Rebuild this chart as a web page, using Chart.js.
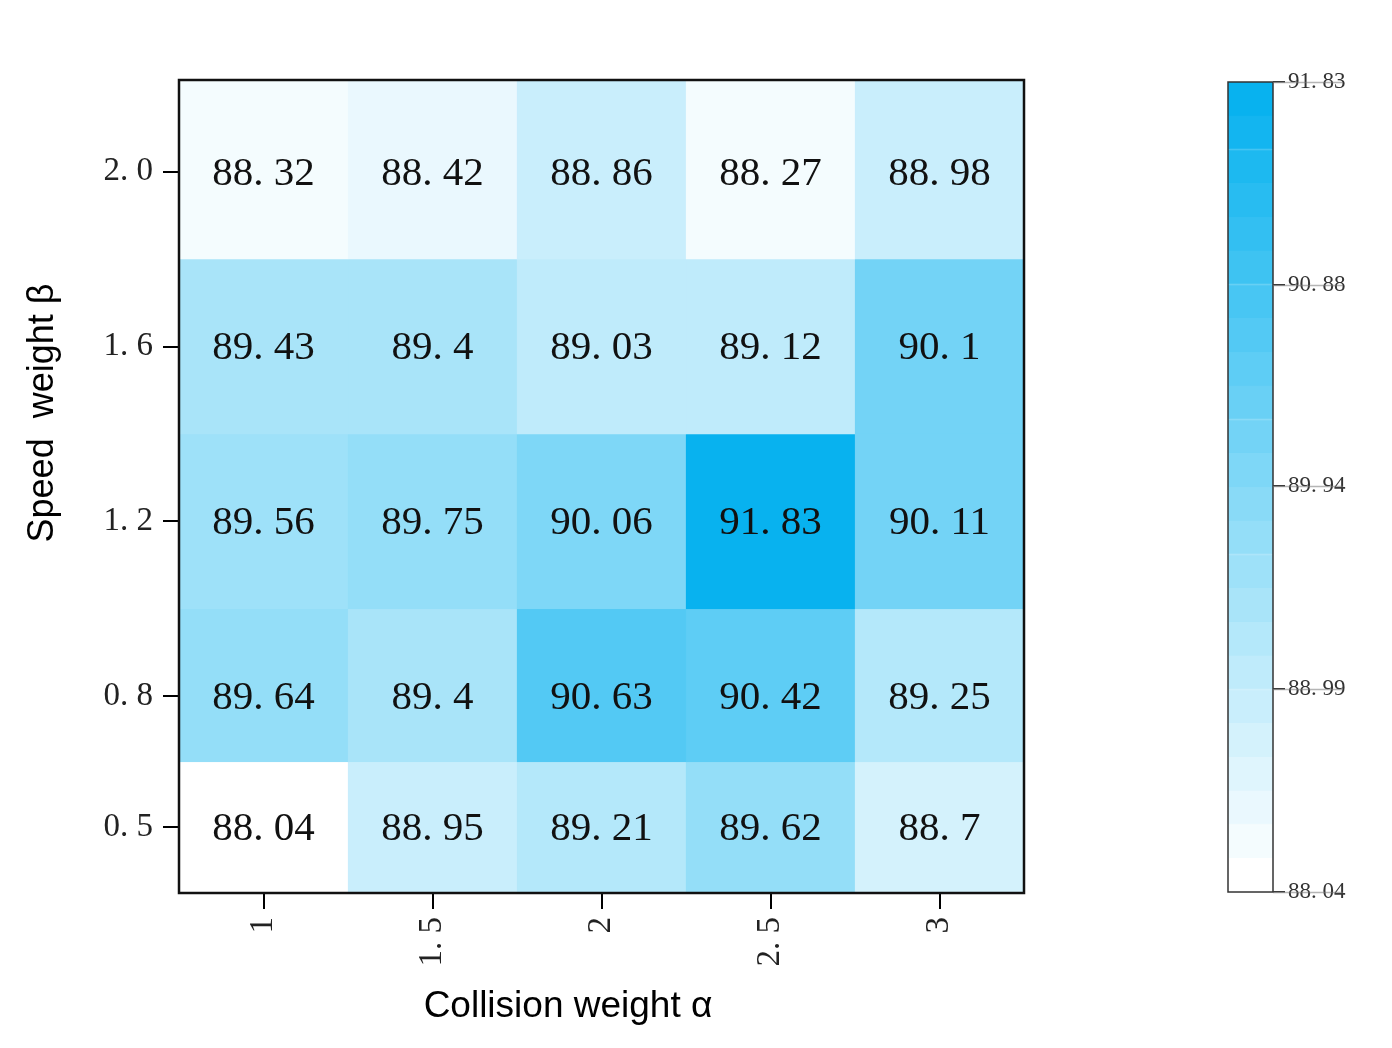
<!DOCTYPE html>
<html>
<head>
<meta charset="utf-8">
<script src="https://cdn.jsdelivr.net/npm/chart.js@4.4.1/dist/chart.umd.min.js"></script>
<style>
  body { margin: 0; background: #fff; }
  #wrap { position: relative; width: 1392px; height: 1048px; }
  canvas { position: absolute; top: 0; }
</style>
</head>
<body>
<div id="wrap">
  <canvas id="heat" width="1140" height="1048" style="left:0;width:1140px;height:1048px"></canvas>
  <canvas id="bar" width="242" height="1048" style="left:1150px;width:242px;height:1048px"></canvas>
</div>
<script>
// categories
const alphaLabels = ['1', '1.5', '2', '2.5', '3'];
const betaValues = [2.0, 1.6, 1.2, 0.8, 0.5];
// cell edges of each beta row [low, high]
const betaEdges = [[1.8, 2.21], [1.4, 1.8], [1.0, 1.4], [0.65, 1.0], [0.35, 0.65]];

// accuracy values, one array per beta row
const row20 = [88.32, 88.42, 88.86, 88.27, 88.98];
const row16 = [89.43, 89.4, 89.03, 89.12, 90.1];
const row12 = [89.56, 89.75, 90.06, 91.83, 90.11];
const row08 = [89.64, 89.4, 90.63, 90.42, 89.25];
const row05 = [88.04, 88.95, 89.21, 89.62, 88.7];
const rows = [row20, row16, row12, row08, row05];

const barTicks = [88.04, 88.99, 89.94, 90.88, 91.83];
const vMin = 88.04, vMax = 91.83;
const nLevels = 24;

const serif = '"Liberation Serif", "DejaVu Serif", serif';
const sans = '"Liberation Sans", Arial, sans-serif';

function fmt(v) {
    return String(v).replace('.', '. ');
}

function levelColor(k) {
    const t = k / (nLevels - 1);
    const r = Math.round(255 - t * (255 - 8));
    const g = Math.round(255 - t * (255 - 178));
    const b = Math.round(255 - t * (255 - 239));
    return `rgb(${r},${g},${b})`;
}

function valueColor(v) {
    const w = (vMax - vMin) / nLevels;
    const k = Math.min(nLevels - 1, Math.floor((v - vMin) / w + 1e-9));
    return levelColor(k);
}

const frame = (width, color) => ({
    id: 'frame',
    afterDraw(chart) {
        const a = chart.chartArea;
        const ctx = chart.ctx;
        ctx.save();
        ctx.strokeStyle = color;
        ctx.lineWidth = width;
        ctx.strokeRect(a.left, a.top, a.right - a.left, a.bottom - a.top);
        ctx.restore();
    }
});

const cellLabels = {
    id: 'cellLabels',
    afterDatasetsDraw(chart) {
        const ctx = chart.ctx;
        ctx.save();
        ctx.font = `41px ${serif}`;
        ctx.fillStyle = '#111';
        ctx.textAlign = 'center';
        ctx.textBaseline = 'middle';
        chart.data.datasets.forEach((ds, i) => {
            chart.getDatasetMeta(i).data.forEach((el, j) => {
                const v = rows[i][j];
                const yc = chart.scales.y.getPixelForValue(betaValues[i]);
                ctx.fillText(fmt(v), el.x, yc + 2);
            });
        });
        ctx.restore();
    }
};

const axisTitles = {
    id: 'axisTitles',
    afterDraw(chart) {
        const ctx = chart.ctx;
        ctx.save();
        ctx.fillStyle = '#000';
        ctx.textAlign = 'center';
        ctx.textBaseline = 'middle';
        ctx.font = `37px ${sans}`;
        ctx.fillText('Collision weight α', 568, 1007);
        ctx.translate(43, 413);
        ctx.rotate(-Math.PI / 2);
        ctx.font = `36px ${sans}`;
        ctx.fillText('Speed  weight β', 0, 0);
        ctx.restore();
    }
};

// faint tick lines running through the colour bar labels
const barTickLines = {
    id: 'barTickLines',
    afterDraw(chart) {
        const ctx = chart.ctx;
        const s = chart.scales.y;
        ctx.save();
        ctx.strokeStyle = 'rgba(120,120,120,0.55)';
        ctx.lineWidth = 1.5;
        s.ticks.forEach(t => {
            const y = Math.round(s.getPixelForValue(t.value)) + 0.5;
            ctx.beginPath();
            ctx.moveTo(chart.chartArea.right, y);
            ctx.lineTo(chart.chartArea.right + 70, y);
            ctx.stroke();
        });
        ctx.restore();
    }
};

new Chart(document.getElementById('heat'), {
    type: 'bar',
    data: {
        labels: alphaLabels,
        datasets: rows.map((r, i) => ({
            label: String(betaValues[i]),
            data: r.map(() => betaEdges[i]),
            backgroundColor: r.map(valueColor),
            borderColor: r.map(valueColor),
            borderWidth: 1,
            borderSkipped: false,
            grouped: false,
            barPercentage: 1,
            categoryPercentage: 1
        }))
    },
    options: {
        responsive: false,
        animation: false,
        layout: { padding: { top: 80, right: 116, bottom: 0, left: 0 } },
        plugins: { legend: { display: false }, tooltip: { enabled: false } },
        scales: {
            x: {
                afterFit(s) { s.height = 155; },
                grid: { offset: false, drawOnChartArea: false, tickLength: 16, color: '#000', lineWidth: 2 },
                border: { display: false },
                ticks: {
                    font: { family: serif, size: 33 },
                    color: '#222',
                    minRotation: 90,
                    maxRotation: 90,
                    padding: 8,
                    callback(v, i) { return fmt(alphaLabels[i]); }
                }
            },
            y: {
                min: 0.35,
                max: 2.21,
                afterFit(s) { s.width = 179; },
                afterBuildTicks(s) { s.ticks = betaValues.map(v => ({ value: v })); },
                grid: { drawOnChartArea: false, tickLength: 16, color: '#000', lineWidth: 2 },
                border: { display: false },
                ticks: {
                    font: { family: serif, size: 33 },
                    color: '#222',
                    padding: 10,
                    callback(v) { return fmt(v.toFixed(1)); }
                }
            }
        }
    },
    plugins: [cellLabels, frame(2.5, '#111'), axisTitles]
});

// colour bar
const bandW = (vMax - vMin) / nLevels;
const bands = [];
for (let k = 0; k < nLevels; k++) {
    bands.push({
        data: [[vMin + k * bandW, vMin + (k + 1) * bandW]],
        backgroundColor: levelColor(k),
        borderColor: levelColor(k),
        borderWidth: 1,
        borderSkipped: false,
        grouped: false,
        barPercentage: 1,
        categoryPercentage: 1
    });
}

new Chart(document.getElementById('bar'), {
    type: 'bar',
    data: { labels: [''], datasets: bands },
    options: {
        responsive: false,
        animation: false,
        layout: { padding: { top: 82, right: 0, bottom: 156, left: 78 } },
        plugins: { legend: { display: false }, tooltip: { enabled: false } },
        scales: {
            x: { display: false },
            y: {
                position: 'right',
                min: vMin,
                max: vMax,
                afterFit(s) { s.width = 119; },
                afterBuildTicks(s) { s.ticks = barTicks.map(v => ({ value: v })); },
                grid: { drawOnChartArea: false, tickLength: 12, color: '#333', lineWidth: 1.5 },
                border: { display: false },
                ticks: {
                    font: { family: serif, size: 23 },
                    color: '#333',
                    padding: 3,
                    callback(v) { return fmt(v.toFixed(2)); }
                }
            }
        }
    },
    plugins: [frame(1.5, '#333'), barTickLines]
});
</script>
</body>
</html>
